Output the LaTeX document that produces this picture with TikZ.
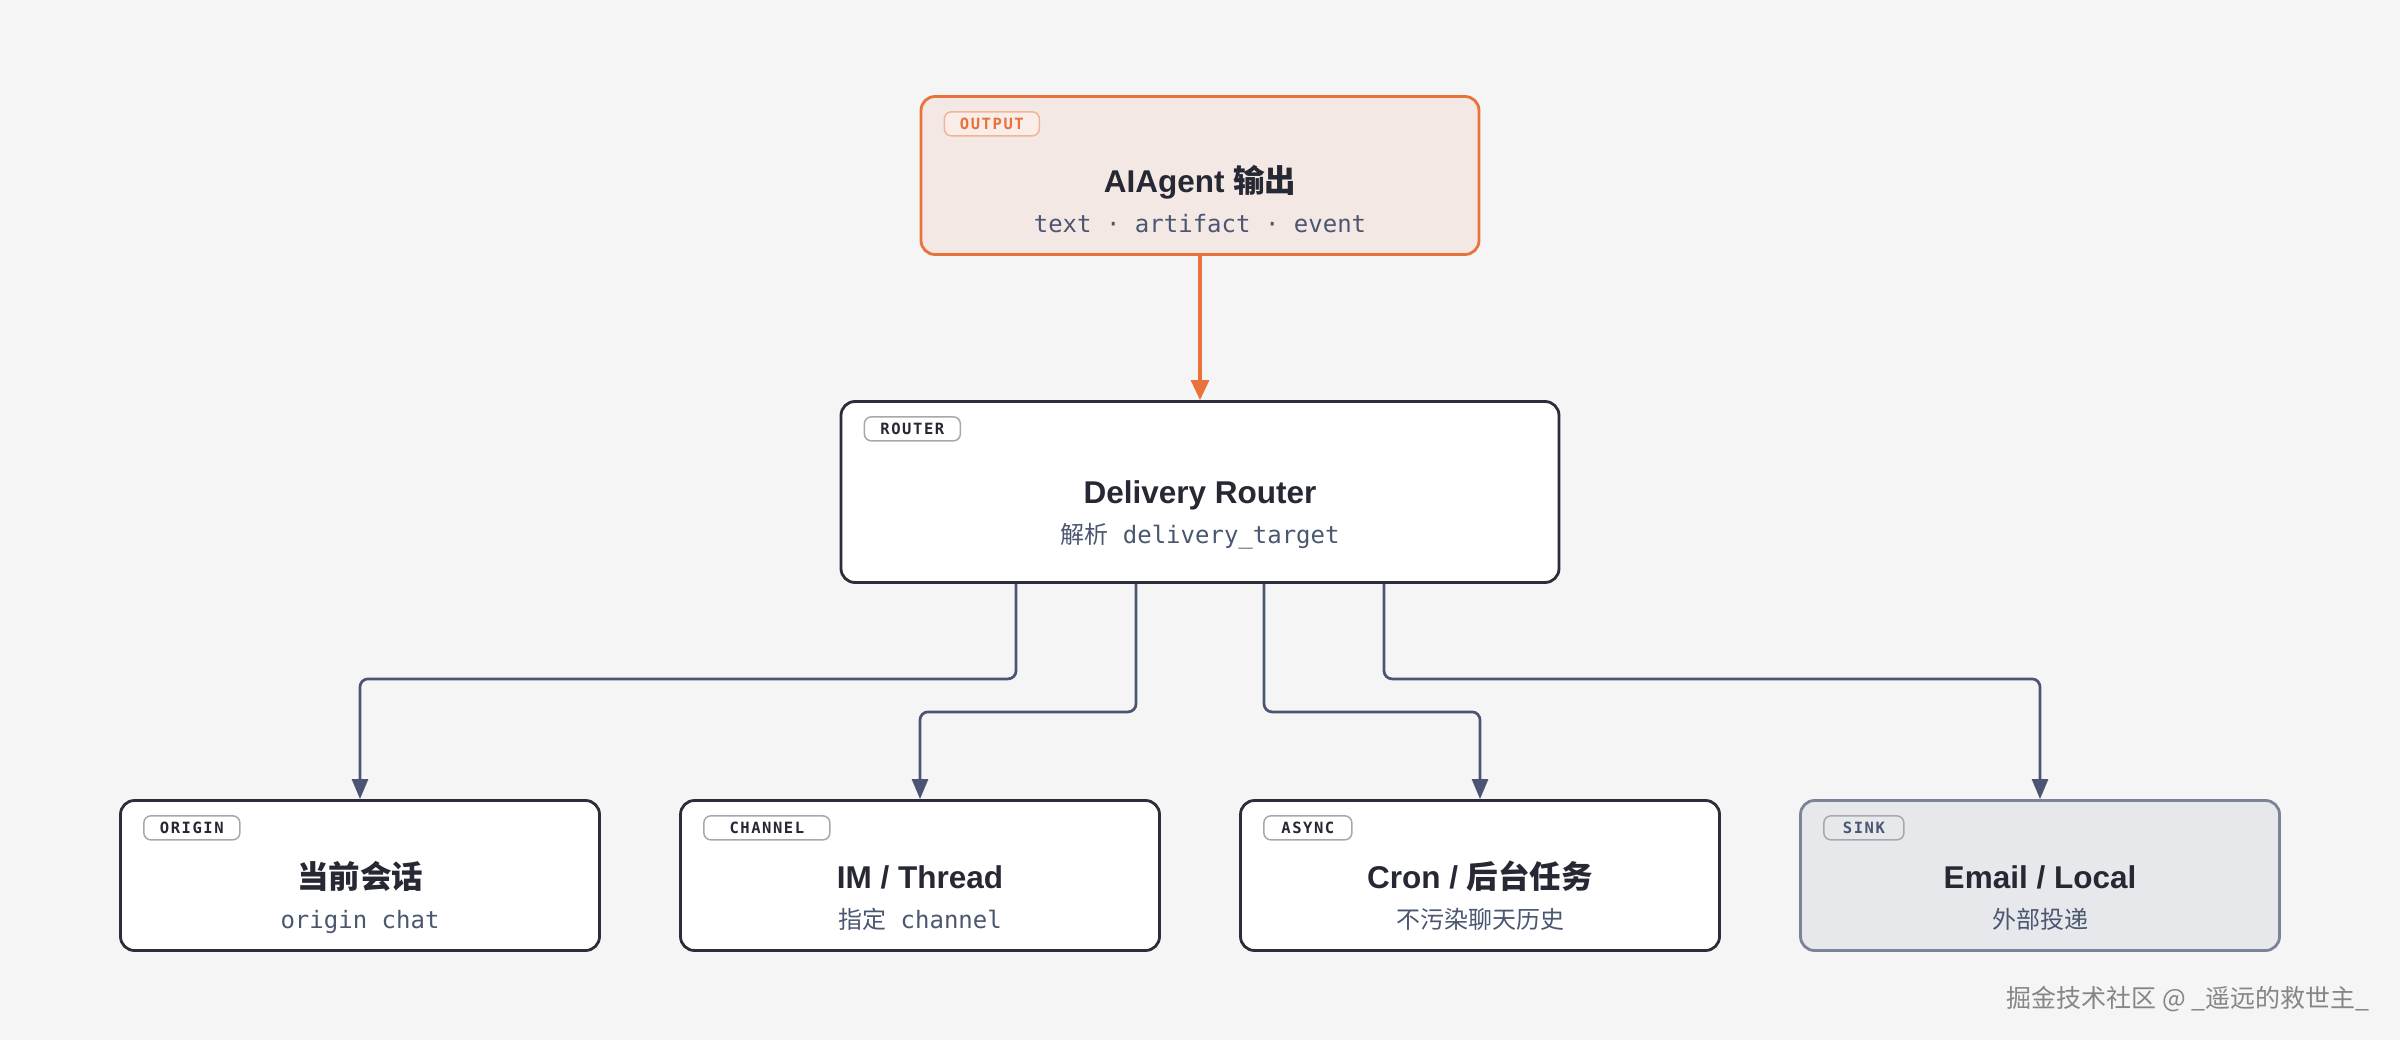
\documentclass[tikz,border=0pt]{standalone}
\usepackage{fontspec}
\usetikzlibrary{arrows.meta,calc}
\newfontfamily\latf{Liberation Sans}
\newfontfamily\cjkf{Noto Sans CJK SC}
\newfontfamily\monof{DejaVu Sans Mono}
\newfontfamily\tagf[LetterSpace=10]{DejaVu Sans Mono}
\definecolor{bgc}{HTML}{F5F5F6}
\definecolor{orangec}{HTML}{E8713C}
\definecolor{orangefill}{HTML}{F4E8E5}
\definecolor{orangetag}{HTML}{F0B596}
\definecolor{orangetagfill}{HTML}{F8EDE9}
\definecolor{boxline}{HTML}{2B2D38}
\definecolor{titlec}{HTML}{262833}
\definecolor{subc}{HTML}{4B5670}
\definecolor{slatec}{HTML}{4A5572}
\definecolor{sinkfill}{HTML}{E6E8EC}
\definecolor{sinkline}{HTML}{7B8398}
\definecolor{tagline}{HTML}{A8A8A8}
\definecolor{wmc}{HTML}{858585}
\tikzset{
  box/.style={draw=boxline, fill=white, line width=2.8pt, rounded corners=14pt, inner sep=0pt},
  tagbox/.style={draw=tagline, fill=white, line width=1.5pt, rounded corners=7pt, anchor=north west,
    minimum height=24pt, inner sep=0pt, text=titlec, font=\fontsize{15.5pt}{18pt}\selectfont\tagf\bfseries},
  ttl/.style={anchor=base, text=titlec, font=\fontsize{31.5pt}{36pt}\selectfont\bfseries\latf},
  sub/.style={anchor=base, text=subc, font=\fontsize{24pt}{28pt}\selectfont\monof},
  conn/.style={draw=slatec, line width=2.7pt, rounded corners=8pt, -{Triangle[length=20pt,width=16pt]}},
  hotconn/.style={draw=orangec, line width=3.2pt, -{Triangle[length=20pt,width=18pt]}},
}
\begin{document}
\begin{tikzpicture}[x=1pt,y=-1pt]
\useasboundingbox (0,0) rectangle (2400,1040);
\fill[bgc] (0,0) rectangle (2400,1040);

% top output box
\node[box, draw=orangec, fill=orangefill, minimum width=558pt, minimum height=158pt] (out) at (1200,175.5) {};
\node[tagbox, draw=orangetag, fill=orangetagfill, text=orangec, minimum width=95pt] (outtag) at ($(out.north west)+(24,16)$) {OUTPUT};
\node[ttl] (outtitle) at ($(out.north)+(0,97)$) {AIAgent {\cjkf 输出}};
\node[sub] (outsub) at ($(out.north)+(0,137)$) {text · artifact · event};

% router
\node[box, minimum width=718pt, minimum height=181pt] (router) at (1200,492) {};
\node[tagbox, minimum width=96pt] (routertag) at ($(router.north west)+(24,16)$) {ROUTER};
\node[ttl] (routertitle) at ($(router.north)+(0,103)$) {Delivery Router};
\node[sub] (routersub) at ($(router.north)+(0,143)$) {{\cjkf 解析} delivery\_target};

% bottom boxes
\node[box, minimum width=479pt, minimum height=150pt] (origin) at (360,875.5) {};
\node[tagbox, minimum width=96pt] (origintag) at ($(origin.north west)+(24,16)$) {ORIGIN};
\node[ttl] (origintitle) at ($(origin.north)+(0,89)$) {\cjkf 当前会话};
\node[sub] (originsub) at ($(origin.north)+(0,129)$) {origin chat};

\node[box, minimum width=479pt, minimum height=150pt] (channel) at (920,875.5) {};
\node[tagbox, minimum width=126pt] (channeltag) at ($(channel.north west)+(24,16)$) {CHANNEL};
\node[ttl] (channeltitle) at ($(channel.north)+(0,89)$) {IM / Thread};
\node[sub] (channelsub) at ($(channel.north)+(0,129)$) {{\cjkf 指定} channel};

\node[box, minimum width=479pt, minimum height=150pt] (async) at (1480,875.5) {};
\node[tagbox, minimum width=88pt] (asynctag) at ($(async.north west)+(24,16)$) {ASYNC};
\node[ttl] (asynctitle) at ($(async.north)+(0,89)$) {Cron / {\cjkf 后台任务}};
\node[sub] (asyncsub) at ($(async.north)+(0,129)$) {\cjkf 不污染聊天历史};

\node[box, draw=sinkline, fill=sinkfill, minimum width=479pt, minimum height=150pt] (sink) at (2040,875.5) {};
\node[tagbox, fill=sinkfill, text=subc, minimum width=80pt] (sinktag) at ($(sink.north west)+(24,16)$) {SINK};
\node[ttl] (sinktitle) at ($(sink.north)+(0,89)$) {Email / Local};
\node[sub] (sinksub) at ($(sink.north)+(0,129)$) {\cjkf 外部投递};

% connectors
\draw[hotconn] (out.south) -- (router.north);
\coordinate (r1) at ($(router.south)+(-184,0)$);
\coordinate (r2) at ($(router.south)+(-64,0)$);
\coordinate (r3) at ($(router.south)+(64,0)$);
\coordinate (r4) at ($(router.south)+(184,0)$);
\draw[conn] (r1) -- ($(r1)+(0,95)$) -| (origin.north);
\draw[conn] (r2) -- ($(r2)+(0,128)$) -| (channel.north);
\draw[conn] (r3) -- ($(r3)+(0,128)$) -| (async.north);
\draw[conn] (r4) -- ($(r4)+(0,95)$) -| (sink.north);

% watermark
\node[anchor=base east, text=wmc, font=\fontsize{25pt}{30pt}\selectfont\cjkf] (wm) at (2373,1007) {掘金技术社区 @ \_遥远的救世主\_};
\end{tikzpicture}
\end{document}
